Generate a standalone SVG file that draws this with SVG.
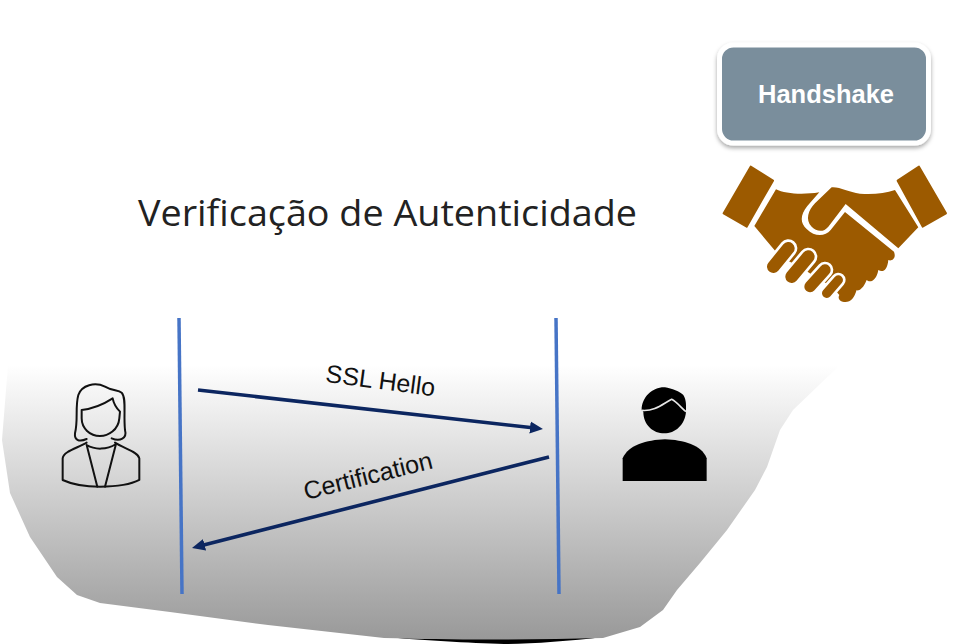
<svg xmlns="http://www.w3.org/2000/svg" width="971" height="644" viewBox="0 0 971 644">
<style>
.t{font-family:"Liberation Sans",Arial,sans-serif;fill:#111}
.life{stroke:#4674c6;stroke-width:3.500;fill:none}
.msg{stroke:#0c2660;stroke-width:3.600;fill:none;marker-end:url(#ah)}
.br{fill:#9c5a00}
.ol{fill:none;stroke:#111;stroke-width:6;stroke-linejoin:round;stroke-linecap:round}
.cap{fill:none;stroke-linecap:round}
</style>
<defs>
<linearGradient id="bg" x1="0" y1="365" x2="0" y2="642" gradientUnits="userSpaceOnUse">
<stop offset="0" stop-color="#ffffff"/><stop offset="1" stop-color="#989898"/>
</linearGradient>
<marker id="ah" markerUnits="userSpaceOnUse" markerWidth="16" markerHeight="14" refX="7" refY="7" orient="auto">
<path d="M0,1L13,7L0,13Z" fill="#0c2660"/>
</marker>
<filter id="sh" x="-10%" y="-10%" width="120%" height="125%">
<feDropShadow dx="0" dy="2.500" stdDeviation="2" flood-color="#000" flood-opacity="0.35"/>
</filter>
</defs>
<g id="background">
<path d="M384,637 L603,637 C570,641 530,644 504,644 C470,643 420,640 384,637Z" fill="#000"/>
<path fill="url(#bg)" d="M8,365 L840,365 L817,387 L793,410 L780,430 L767,467 L755,490 L727,530 L700,563 L677,590 L663,610 L640,627 L603,638 C530,640 450,640 384,638 L268,625 L170,612 L100,603 L77,595 L57,577 L30,537 L10,493 L2,440 Z"/>
</g>
<g id="title"><text x="138" y="226" font-family="'Open Sans',sans-serif" font-size="36" fill="#222" textLength="499" lengthAdjust="spacingAndGlyphs">Verificação de Autenticidade</text></g>
<g id="handshake-box">
<rect x="719.500" y="45" width="209" height="98" rx="14" fill="#7a8e9c" stroke="#fff" stroke-width="5" filter="url(#sh)"/>
<text x="826" y="103" text-anchor="middle" font-family="'Liberation Sans',Arial,sans-serif" font-weight="700" font-size="25.500" fill="#fff">Handshake</text>
</g>
<g id="handshake-icon" transform="translate(700 30) scale(.3333)">
<path class="br" stroke="#9c5a00" stroke-width="6" stroke-linejoin="round" d="M152,410L219,452L140,590L71,550Z"/>
<path class="br" stroke="#9c5a00" stroke-width="6" stroke-linejoin="round" d="M657,410L593,452L668,590L738,550Z"/>
<path class="br" d="M345,520L395,472C420,470 445,487 480,491C520,494 555,490 585,480L655,592L595,655L437,522L385,590C370,608 350,605 335,590C315,570 325,540 345,520Z"/>
<path class="br" d="M228,478C255,492 310,495 358,487L322,528C300,555 300,580 320,597C345,622 375,620 392,600L435,546L582,665C590,685 575,695 565,690C562,722 548,728 535,720C530,752 510,760 500,750C490,778 472,785 470,780C462,805 452,818 432,816C420,815 412,805 418,795L397,770L352,745L300,710L242,682L215,650L163,588Z"/>
<g class="cap" stroke="#fff"><path d="M220,710L265,655" stroke-width="54"/><path d="M275,740L325,680" stroke-width="54"/><path d="M330,770L375,720" stroke-width="50"/><path d="M380,790L415,750" stroke-width="44"/></g>
<g class="cap" stroke="#9c5a00"><path d="M220,710L265,655" stroke-width="38"/><path d="M275,740L325,680" stroke-width="38"/><path d="M330,770L375,720" stroke-width="34"/><path d="M380,790L415,750" stroke-width="28"/></g>
</g>
<g id="connectors">
<path class="life" d="M179,318L182,594"/>
<path class="life" d="M556,318L559,594"/>
<path class="msg" d="M198,390L537,428.300"/>
<path class="msg" d="M549,457L197.800,546.500"/>
</g>
<g id="label-ssl"><text class="t" font-size="25" text-anchor="middle" transform="translate(379.500 389) rotate(7.500)">SSL Hello</text></g>
<g id="label-cert"><text class="t" font-size="25" text-anchor="middle" transform="translate(370 484) rotate(-14)">Certification</text></g>
<g id="client" transform="translate(40 370) scale(.3333)">
<path class="ol" d="M140,207C115,218 103,208 105,190C115,150 105,110 115,75C125,45 165,35 195,50C215,62 235,60 245,68C260,85 250,130 255,180C262,205 240,216 215,205"/>
<path class="ol" d="M125,120C165,115 195,100 218,85C222,105 230,115 240,125L238,145C235,180 205,198 180,198C150,198 125,175 125,145Z"/>
<path class="ol" d="M140,218C110,235 70,245 68,265L68,330C100,345 140,350 180,350C230,350 270,345 298,330L298,265C295,245 250,235 225,218"/>
<path class="ol" d="M140,225C165,240 200,240 228,222M140,225L172,350M228,222L195,350"/>
</g>
<g id="server" transform="translate(600 370) scale(.3333)">
<path d="M125,120C125,80 160,50 195,52C215,55 240,65 250,75C260,90 258,110 258,125C255,165 225,190 193,190C160,190 130,165 130,125Z" fill="#000"/>
<path d="M125,121C165,125 190,100 215,88C230,95 245,115 258,125" fill="none" stroke="#e6e6e6" stroke-width="5"/>
<path d="M68,333L68,265C85,225 140,210 195,208C250,210 305,225 320,265L320,333Z" fill="#000"/>
</g>
</svg>
